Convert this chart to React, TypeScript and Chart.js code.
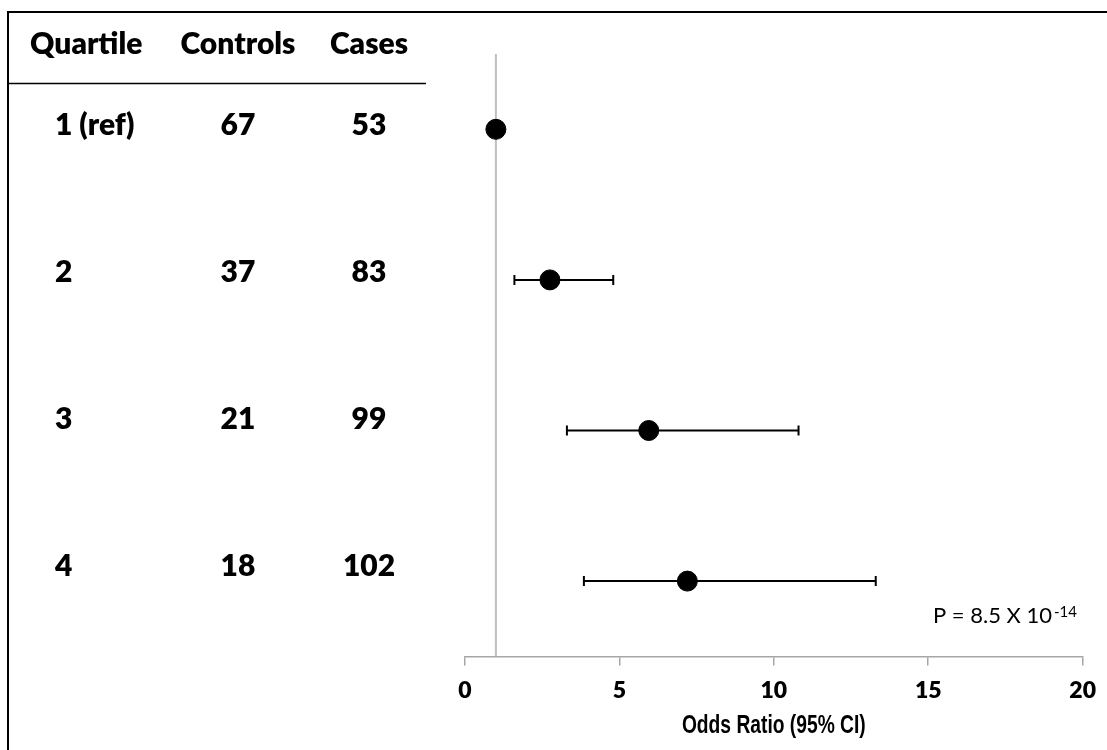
import React, { useEffect, useRef } from "react";
import { Chart, registerables } from "chart.js";

Chart.register(...registerables);

// ---- data ----
const quartiles = ["1 (ref)", "2", "3", "4"];
const controls = [67, 37, 21, 18];
const cases = [53, 83, 99, 102];
const rows = [1, 2, 3, 4];
const oddsRatio = [1, 2.75, 5.95, 7.2];
const ciLower: (number | null)[] = [null, 1.6, 3.3, 3.85];
const ciUpper: (number | null)[] = [null, 4.8, 10.8, 13.3];
const xTicks = [0, 5, 10, 15, 20];
const headers = ["Quartile", "Controls", "Cases"];
const xTitle = "Odds Ratio (95% CI)";
const pValueText = "P = 8.5 X 10";
const pValueExp = "-14";
const refValue = 1;

const W = 1107;
const H = 750;

const tablePlugin = {
  id: "forestTable",
  afterDraw(chart: any) {
    const ctx = chart.ctx as CanvasRenderingContext2D;
    const area = chart.chartArea;
    ctx.save();
    // frame
    ctx.strokeStyle = "#000";
    ctx.lineWidth = 2;
    ctx.beginPath();
    ctx.moveTo(8, H);
    ctx.lineTo(8, 12);
    ctx.lineTo(W, 12);
    ctx.stroke();
    // header underline
    ctx.lineWidth = 1.5;
    ctx.beginPath();
    ctx.moveTo(8, 83.5);
    ctx.lineTo(426, 83.5);
    ctx.stroke();

    ctx.fillStyle = "#000";
    ctx.textBaseline = "alphabetic";
    ctx.font = "800 30px Lato";
    // headers
    ctx.textAlign = "left";
    ctx.fillText(headers[0], 30, 54);
    ctx.textAlign = "center";
    ctx.fillText(headers[1], 238, 54);
    ctx.fillText(headers[2], 369, 54);
    const baselines = [135, 282, 429, 576];
    quartiles.forEach((q, i) => {
      ctx.textAlign = "left";
      ctx.fillText(q, 55, baselines[i]);
      ctx.textAlign = "center";
      ctx.fillText(String(controls[i]), 238, baselines[i]);
      ctx.fillText(String(cases[i]), 369, baselines[i]);
    });

    // p-value
    ctx.textAlign = "left";
    ctx.font = "22px Lato";
    ctx.fillText(pValueText, 933, 623);
    const w = ctx.measureText(pValueText).width;
    ctx.font = "15px Lato";
    ctx.fillText(pValueExp, 933 + w + 2, 617);

    // x-axis title (narrow bold face)
    ctx.save();
    ctx.translate((area.left + area.right) / 2, 733);
    ctx.scale(0.74, 1);
    ctx.textAlign = "center";
    ctx.font = "bold 26px 'Liberation Sans', Arial";
    ctx.fillText(xTitle, 0, 0);
    ctx.restore();

    ctx.restore();
  },
};

export default function App() {
  const ref = useRef<HTMLCanvasElement>(null);

  useEffect(() => {
    if (!ref.current) return;
    const ciDatasets = rows
      .map((r, i) => {
        if (ciLower[i] == null || ciUpper[i] == null) return null;
        return {
          type: "line" as const,
          data: [
            { x: ciLower[i], y: r },
            { x: ciUpper[i], y: r },
          ],
          borderColor: "#000",
          borderWidth: 2,
          pointStyle: "line",
          rotation: 90,
          pointRadius: 5,
          pointBorderWidth: 2,
          pointBorderColor: "#000",
          fill: false,
          showLine: true,
        };
      })
      .filter(Boolean) as any[];

    const chart = new Chart(ref.current, {
      type: "scatter",
      data: {
        datasets: [
          {
            data: rows.map((r, i) => ({ x: oddsRatio[i], y: r })),
            backgroundColor: "#000",
            borderColor: "#000",
            pointRadius: 10,
            pointHoverRadius: 10,
            showLine: false,
          } as any,
          ...ciDatasets,
          {
            type: "line",
            data: [
              { x: refValue, y: 0.5 },
              { x: refValue, y: 4.5 },
            ],
            borderColor: "#bfbfbf",
            borderWidth: 2,
            pointRadius: 0,
            showLine: true,
            fill: false,
          } as any,
        ],
      },
      options: {
        responsive: false,
        animation: false,
        layout: { padding: { left: 465, right: 24, top: 54, bottom: 35 } },
        plugins: { legend: { display: false }, tooltip: { enabled: false } },
        scales: {
          x: {
            type: "linear",
            min: xTicks[0],
            max: xTicks[xTicks.length - 1],
            afterBuildTicks: (s: any) => {
              s.ticks = xTicks.map((v) => ({ value: v }));
            },
            border: { display: true, color: "#a6a6a6", width: 1.5 },
            grid: {
              drawOnChartArea: false,
              drawTicks: true,
              tickLength: 9,
              color: "#a6a6a6",
              lineWidth: 1.5,
            },
            ticks: {
              padding: 11,
              color: "#000",
              font: { family: "Lato", size: 23, weight: "800" },
            },
            title: { display: false },
          },
          y: {
            type: "linear",
            display: false,
            min: 0.5,
            max: 4.5,
            reverse: true,
          },
        },
      },
      plugins: [tablePlugin],
    } as any);

    if ((document as any).fonts && (document as any).fonts.load) {
      Promise.all([
        document.fonts.load("800 30px Lato"),
        document.fonts.load("22px Lato"),
        document.fonts.load("bold 26px 'Liberation Sans'"),
      ])
        .then(() => chart.update())
        .catch(() => {});
    }
    return () => chart.destroy();
  }, []);

  return (
    <div
      style={{
        position: "fixed",
        left: 0,
        top: 0,
        width: W,
        height: H,
        overflow: "hidden",
        background: "#fff",
      }}
    >
      <canvas ref={ref} width={W} height={H} style={{ display: "block" }} />
    </div>
  );
}
